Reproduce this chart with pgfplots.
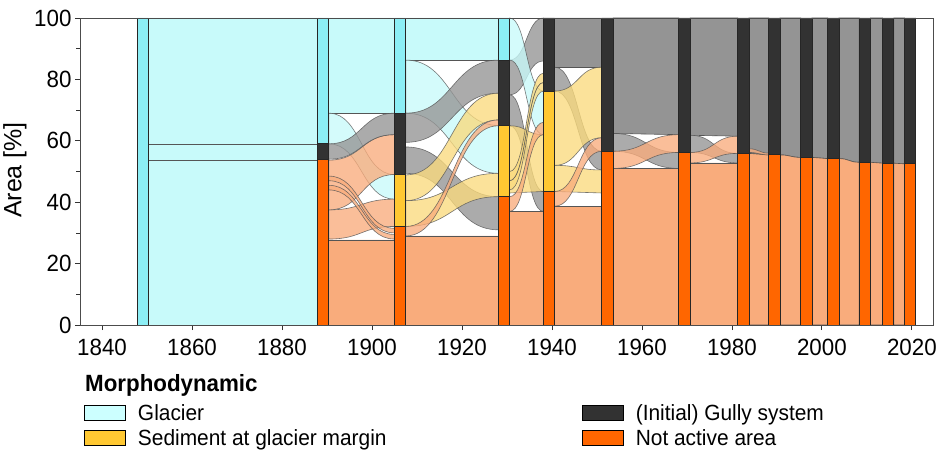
\documentclass[border=0pt]{standalone}
\usepackage{fontspec}
\setmainfont{Liberation Sans}[FakeStretch=0.95]
\newfontfamily\labelfont{Liberation Sans}
\usepackage{pgfplots}
\pgfplotsset{compat=1.18}

% plot handler: joins successive points with S-shaped curves (horizontal tangents)
\makeatletter
\def\pgfplothandlersigmoid{%
  \def\pgf@plotstreamstart{%
    \global\let\pgf@plotstreampoint=\sig@firstpoint
    \global\let\pgf@plotstreamspecial=\pgfutil@gobble
    \global\let\pgf@plotstreamend=\relax
  }%
}
\def\sig@firstpoint#1{%
  \pgf@process{#1}%
  \xdef\sig@lx{\the\pgf@x}\xdef\sig@ly{\the\pgf@y}%
  \pgf@plot@first@action{\pgfqpoint{\sig@lx}{\sig@ly}}%
  \global\let\pgf@plotstreampoint=\sig@nextpoint
}
\def\sig@nextpoint#1{%
  \pgf@process{#1}%
  \edef\sig@nx{\the\pgf@x}\edef\sig@ny{\the\pgf@y}%
  \pgf@xa=\sig@lx\relax
  \advance\pgf@xa by \pgf@x
  \pgf@xa=0.5\pgf@xa
  \edef\sig@mx{\the\pgf@xa}%
  \pgfpathcurveto{\pgfqpoint{\sig@mx}{\sig@ly}}{\pgfqpoint{\sig@mx}{\sig@ny}}{\pgfqpoint{\sig@nx}{\sig@ny}}%
  \xdef\sig@lx{\sig@nx}\xdef\sig@ly{\sig@ny}%
}
\tikzset{sigmoid/.code={\let\tikz@plot@handler=\pgfplothandlersigmoid}}
\makeatother

\definecolor{barCyan}{RGB}{140,238,245}
\definecolor{barYellow}{RGB}{255,200,50}
\definecolor{barDark}{RGB}{50,50,50}
\definecolor{barOrange}{RGB}{255,102,0}
\definecolor{flCyan}{RGB}{200,250,250}
\definecolor{flYellow}{RGB}{250,218,125}
\definecolor{flGray}{RGB}{148,148,148}
\definecolor{flOrange}{RGB}{249,172,124}
\definecolor{lgCyan}{RGB}{204,255,255}
\definecolor{flLine}{RGB}{85,85,85}

% bar segment: left, right, low, high, colour
\newcommand\seg[5]{\addplot[forget plot, fill=#5, draw=black!85, line width=0.9pt] coordinates {(#1,#3) (#2,#3) (#2,#4) (#1,#4) (#1,#3)};}
% opaque flow: x0, x1, lo0, hi0, lo1, hi1, colour
\newcommand\base[7]{\addplot[forget plot, sigmoid, fill=#7, draw=flLine, line width=0.6pt] coordinates {(#1,#3) (#2,#5) (#2,#6) (#1,#4) (#1,#3)};}
% translucent ribbon
\newcommand\rib[7]{\addplot[forget plot, sigmoid, fill=#7, fill opacity=0.78, draw=flLine, draw opacity=0.8, line width=0.6pt] coordinates {(#1,#3) (#2,#5) (#2,#6) (#1,#4) (#1,#3)};}

\begin{document}
\begin{tikzpicture}
\begin{axis}[
  at={(0,0)}, anchor=south west,
  scale only axis, width=853pt, height=307pt,
  xmin=1835.1, xmax=2024.7, ymin=0, ymax=100,
  xtick={1840,1860,...,2020}, ytick={0,20,...,100},
  minor y tick num=1,
  xtick pos=left, ytick pos=left, tick align=outside,
  major tick length=5pt, minor tick length=3.5pt,
  tick style={black!80, line width=0.8pt},
  axis line style={black!70, line width=0.9pt},
  axis on top,
  /pgf/number format/assume math mode=true,
  /pgf/number format/1000 sep={},
  tick label style={font=\fontsize{23.5}{27}\selectfont},
  xticklabel style={yshift=-6pt},
  ylabel={Area [\%]},
  ylabel style={font=\labelfont\fontsize{25}{29}\selectfont, at={(axis description cs:0,0.505)}, anchor=center, yshift=65pt},
  legend columns=2, transpose legend,
  legend image code/.code={\draw[#1, draw=black, line width=0.8pt] (0pt,-7.5pt) rectangle (41pt,7.5pt);},
  legend style={at={(0,0)}, anchor=north west, xshift=4pt, yshift=-79pt,
    draw=none, fill=none, inner sep=0pt, row sep=8pt,
    font=\fontsize{22}{26}\selectfont,
    nodes={inner sep=0pt, anchor=west},
    /tikz/every odd column/.style={column sep=12pt}},
]
% ---- flows ----
% 1850 -> 1889
\base{1850.3}{1887.9}{0}{53.8}{0}{53.8}{flCyan}
\base{1850.3}{1887.9}{53.8}{59}{53.8}{59}{flCyan}
\base{1850.3}{1887.9}{59}{100}{59}{100}{flCyan}
% 1889 -> 1906
\base{1890.4}{1905.0}{69}{100}{69}{100}{flCyan}
\base{1890.4}{1905.0}{0}{27.7}{0}{27.7}{flOrange}
\rib{1890.4}{1905.0}{59}{69}{41}{49}{flCyan}
\rib{1890.4}{1905.0}{28}{37.5}{32.1}{41}{flOrange}
\rib{1890.4}{1905.0}{37.5}{53.7}{49}{62}{flOrange}
\rib{1890.4}{1905.0}{44}{45.5}{28}{29.5}{flOrange}
\rib{1890.4}{1905.0}{47}{48.5}{30}{31.5}{flOrange}
\rib{1890.4}{1905.0}{54}{59}{62}{69}{flGray}
% 1906 -> 1929
\base{1907.5}{1928.1}{86.3}{100}{86.3}{100}{flCyan}
\base{1907.5}{1928.1}{0}{29}{0}{29}{flOrange}
\rib{1907.5}{1928.1}{69}{86.3}{49.4}{65}{flCyan}
\rib{1907.5}{1928.1}{59.5}{69}{75.5}{86.3}{flGray}
\rib{1907.5}{1928.1}{49.4}{58}{31}{41.8}{flGray}
\rib{1907.5}{1928.1}{40.5}{48.9}{66.8}{75.5}{flYellow}
\rib{1907.5}{1928.1}{32.1}{40.5}{41.8}{49.4}{flYellow}
\rib{1907.5}{1928.1}{29}{32.1}{64.9}{66.8}{flOrange}
% 1929 -> 1939
\base{1930.6}{1938.1}{0}{37}{0}{37}{flOrange}
\rib{1930.6}{1938.1}{75}{86.3}{86}{100}{flGray}
\rib{1930.6}{1938.1}{86.3}{100}{62}{76.2}{flCyan}
\rib{1930.6}{1938.1}{64.9}{75}{37}{43.5}{flGray}
\rib{1930.6}{1938.1}{43}{64.9}{43.5}{62}{flYellow}
\rib{1930.6}{1938.1}{44}{47}{76.2}{79}{flYellow}
\rib{1930.6}{1938.1}{47}{50}{79}{82}{flYellow}
\rib{1930.6}{1938.1}{37}{41.8}{62}{66}{flOrange}
% 1939 -> 1952
\base{1940.6}{1951.1}{84}{100}{84}{100}{flGray}
\base{1940.6}{1951.1}{0}{38.7}{0}{38.7}{flOrange}
\rib{1940.6}{1951.1}{76.2}{84}{50.5}{56.6}{flGray}
\rib{1940.6}{1951.1}{52}{76.2}{61}{84}{flYellow}
\rib{1940.6}{1951.1}{43.5}{52}{43}{50.5}{flYellow}
\rib{1940.6}{1951.1}{38.7}{43.5}{56.6}{61}{flOrange}
% 1952 -> 1969
\base{1953.6}{1968.2}{62.4}{100}{62}{100}{flGray}
\base{1953.6}{1968.2}{0}{51}{0}{51}{flOrange}
\rib{1953.6}{1968.2}{56.6}{62.4}{51}{56.2}{flGray}
\rib{1953.6}{1968.2}{51}{56.6}{56.2}{62}{flOrange}
% 1969 -> 1982
\base{1970.7}{1981.3}{61.8}{100}{61.5}{100}{flGray}
\base{1970.7}{1981.3}{0}{52.8}{0}{52.8}{flOrange}
\rib{1970.7}{1981.3}{56.2}{61.8}{52.8}{55.9}{flGray}
\rib{1970.7}{1981.3}{52.8}{56.2}{55.9}{61.5}{flOrange}
% 1982 -> 1989
\base{1983.8}{1988.2}{55.9}{100}{55.4}{100}{flGray}
\base{1983.8}{1988.2}{0}{55.9}{0}{55.4}{flOrange}
\rib{1983.8}{1988.2}{56.2}{57.4}{55.4}{56.0}{flOrange}
% later years
\base{1990.7}{1995.3}{55.4}{100}{54.6}{100}{flGray}
\base{1990.7}{1995.3}{0}{55.4}{0}{54.6}{flOrange}
\base{1997.8}{2001.3}{54.6}{100}{54.2}{100}{flGray}
\base{1997.8}{2001.3}{0}{54.6}{0}{54.2}{flOrange}
\base{2003.8}{2008.3}{54.2}{100}{53.0}{100}{flGray}
\base{2003.8}{2008.3}{0}{54.2}{0}{53.0}{flOrange}
\base{2010.8}{2013.5}{53.0}{100}{52.7}{100}{flGray}
\base{2010.8}{2013.5}{0}{53.0}{0}{52.7}{flOrange}
\base{2016.0}{2018.4}{52.7}{100}{52.5}{100}{flGray}
\base{2016.0}{2018.4}{0}{52.7}{0}{52.5}{flOrange}

% ---- bars ----
\seg{1847.8}{1850.3}{0}{100}{barCyan}
\seg{1887.9}{1890.4}{0}{53.8}{barOrange}
\seg{1887.9}{1890.4}{53.8}{59}{barDark}
\seg{1887.9}{1890.4}{59}{100}{barCyan}
\seg{1905.0}{1907.5}{0}{32.1}{barOrange}
\seg{1905.0}{1907.5}{32.1}{48.9}{barYellow}
\seg{1905.0}{1907.5}{48.9}{69}{barDark}
\seg{1905.0}{1907.5}{69}{100}{barCyan}
\seg{1928.1}{1930.6}{0}{41.8}{barOrange}
\seg{1928.1}{1930.6}{41.8}{64.9}{barYellow}
\seg{1928.1}{1930.6}{64.9}{86.3}{barDark}
\seg{1928.1}{1930.6}{86.3}{100}{barCyan}
\seg{1938.1}{1940.6}{0}{43.5}{barOrange}
\seg{1938.1}{1940.6}{43.5}{76.2}{barYellow}
\seg{1938.1}{1940.6}{76.2}{100}{barDark}
\seg{1951.1}{1953.6}{0}{56.6}{barOrange}
\seg{1951.1}{1953.6}{56.6}{100}{barDark}
\seg{1968.2}{1970.7}{0}{56.2}{barOrange}
\seg{1968.2}{1970.7}{56.2}{100}{barDark}
\seg{1981.3}{1983.8}{0}{55.9}{barOrange}
\seg{1981.3}{1983.8}{55.9}{100}{barDark}
\seg{1988.2}{1990.7}{0}{55.4}{barOrange}
\seg{1988.2}{1990.7}{55.4}{100}{barDark}
\seg{1995.3}{1997.8}{0}{54.6}{barOrange}
\seg{1995.3}{1997.8}{54.6}{100}{barDark}
\seg{2001.3}{2003.8}{0}{54.2}{barOrange}
\seg{2001.3}{2003.8}{54.2}{100}{barDark}
\seg{2008.3}{2010.8}{0}{53.0}{barOrange}
\seg{2008.3}{2010.8}{53.0}{100}{barDark}
\seg{2013.5}{2016.0}{0}{52.7}{barOrange}
\seg{2013.5}{2016.0}{52.7}{100}{barDark}
\seg{2018.4}{2020.9}{0}{52.5}{barOrange}
\seg{2018.4}{2020.9}{52.5}{100}{barDark}

% ---- legend ----
\addlegendimage{fill=lgCyan}
\addlegendentry{\makebox[444pt][l]{Glacier}}
\addlegendimage{fill=barYellow}
\addlegendentry{\makebox[444pt][l]{Sediment at glacier margin}}
\addlegendimage{fill=barDark}
\addlegendentry{(Initial) Gully system}
\addlegendimage{fill=barOrange}
\addlegendentry{Not active area}
\end{axis}
\node[anchor=base west, font=\bfseries\fontsize{23.5}{27}\selectfont, inner sep=0pt] at (5pt,-66.5pt) {Morphodynamic};
\pgfresetboundingbox
\path[use as bounding box] (-80pt,-125pt) rectangle (858pt,325pt);
\end{tikzpicture}
\end{document}
